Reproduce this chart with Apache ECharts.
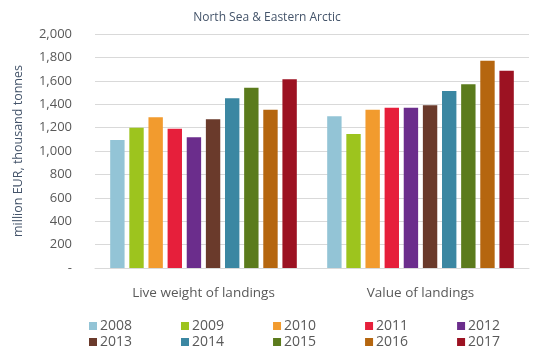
<!DOCTYPE html>
<html><head><meta charset="utf-8">
<script src="https://cdn.jsdelivr.net/npm/echarts@6/dist/echarts.min.js"></script>
<style>html,body{margin:0;padding:0;background:#fff}#c{width:534px;height:358px}</style>
</head><body><div id="c"></div>
<script>
const categories = ['Live weight of landings', 'Value of landings'];
const years = ['2008','2009','2010','2011','2012','2013','2014','2015','2016','2017'];
const v2008 = [1095, 1296];
const v2009 = [1199, 1145];
const v2010 = [1288, 1353];
const v2011 = [1190, 1370];
const v2012 = [1117, 1370];
const v2013 = [1271, 1390];
const v2014 = [1450, 1513];
const v2015 = [1540, 1570];
const v2016 = [1352, 1772];
const v2017 = [1613, 1686];
const values = [v2008, v2009, v2010, v2011, v2012, v2013, v2014, v2015, v2016, v2017];
const colors = ['#93c4d6','#9dc41e','#f29b2e','#e61f3b','#6b2d8c','#6a3a2b','#3b87a2','#5b7b1c','#b5660f','#9c1222'];

const FONT = 'Open Sans';
const chart = echarts.init(document.getElementById('c'));
const legendCommon = {
  left: 89, itemWidth: 8, itemHeight: 8, itemGap: 49, icon: 'rect', padding: 0,
  textStyle: {fontFamily: FONT, fontSize: 14, color: '#595959', padding: [0,0,0,-2]}
};
chart.setOption({
  animation: false,
  color: colors,
  title: {text: 'North Sea & Eastern Arctic', left: 'center', top: 7,
    textStyle: {fontFamily: FONT, fontSize: 12, fontWeight: 'normal', color: '#44546a'}},
  grid: {left: 95, right: 5, top: 34, bottom: 90},
  legend: [
    Object.assign({}, legendCommon, {top: 319, data: years.slice(0,5)}),
    Object.assign({}, legendCommon, {top: 335, data: years.slice(5)})
  ],
  xAxis: {type: 'category', data: categories,
    axisLine: {show: true, lineStyle: {color: '#d9d9d9'}}, axisTick: {show: false},
    axisLabel: {fontFamily: FONT, fontSize: 13.5, color: '#595959', margin: 18}},
  yAxis: {type: 'value', min: 0, max: 2000, interval: 200,
    name: 'million EUR, thousand tonnes', nameLocation: 'middle', nameGap: 70,
    nameTextStyle: {fontFamily: FONT, fontSize: 12.5, color: '#44546a'},
    axisLine: {show: false}, axisTick: {show: false},
    splitLine: {lineStyle: {color: '#d9d9d9'}},
    axisLabel: {fontFamily: FONT, fontSize: 13, color: '#595959', margin: 23,
      formatter: v => v === 0 ? '-' : v.toLocaleString('en-US')}},
  series: years.map((y, i) => ({
    name: y, type: 'bar', data: values[i], barGap: '33%', barCategoryGap: '14%'
  }))
});
</script></body></html>
